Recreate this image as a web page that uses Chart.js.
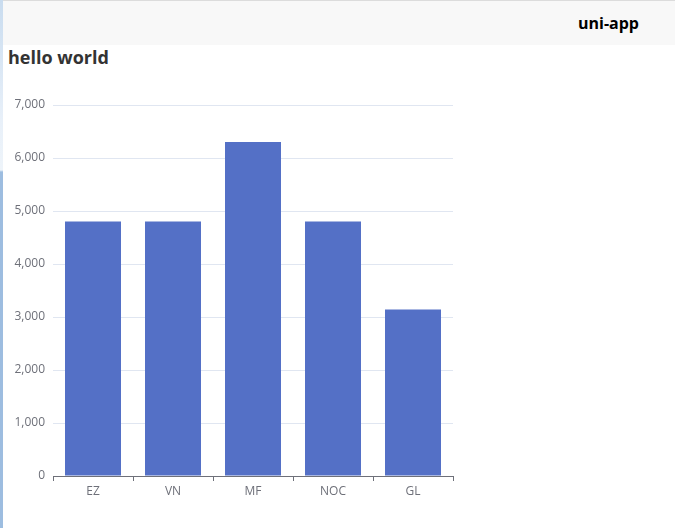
<!DOCTYPE html>
<html>
<head>
<meta charset="utf-8">
<script src="https://cdn.jsdelivr.net/npm/chart.js@4"></script>
<style>
  html, body { margin: 0; padding: 0; background: #fff; width: 675px; height: 528px; overflow: hidden; font-family: "Open Sans", "Noto Sans", sans-serif; }
  #strip { position: absolute; left: 0; top: 0; width: 3px; height: 528px;
    background: linear-gradient(to bottom, #c9dcef 0px, #e8f0f9 120px, #eef4fa 170px, #9dbde0 172px, #9dbde0 528px); }
  #nav { position: absolute; left: 3px; top: 0; width: 672px; height: 44px; background: #f8f8f8; border-top: 1px solid #dcdcdc; }
  #navtitle { position: absolute; left: 578px; top: 12px; font-size: 16px; font-weight: bold; color: #000; line-height: 22px; }
  #title { position: absolute; left: 8px; top: 45px; font-size: 18px; font-weight: bold; color: #333; line-height: 24px; }
  #wrap { position: absolute; left: 0; top: 81px; width: 460px; height: 430px; }
</style>
</head>
<body>
<div id="strip"></div>
<div id="nav"></div>
<div id="navtitle">uni-app</div>
<div id="title">hello world</div>
<div id="wrap"><canvas id="c" width="460" height="430"></canvas></div>
<script>
const categories = ["EZ", "VN", "MF", "NOC", "GL"];
const values = [4800, 4800, 6300, 4800, 3140];
const yTicks = [0, 1000, 2000, 3000, 4000, 5000, 6000, 7000];

new Chart(document.getElementById("c"), {
  type: "bar",
  data: {
    labels: categories,
    datasets: [{
      data: values,
      backgroundColor: "#5470c6",
      borderWidth: 0,
      barPercentage: 0.7,
      categoryPercentage: 1.0
    }]
  },
  options: {
    responsive: false,
    animation: false,
    events: [],
    layout: { padding: { top: 24, right: 7, bottom: 0, left: 0 } },
    plugins: { legend: { display: false }, tooltip: { enabled: false } },
    scales: {
      x: {
        offset: true,
        grid: { display: true, drawOnChartArea: false, drawTicks: true, tickLength: 5, color: "#6e7079", offset: true },
        border: { display: true, color: "#6e7079", width: 1 },
        ticks: { color: "#6e7079", font: { family: "Open Sans", size: 12 }, padding: 3, maxRotation: 0 },
        afterFit: (s) => { s.height = 35; }
      },
      y: {
        min: 0, max: 7000,
        afterBuildTicks: (s) => { s.ticks = yTicks.map(v => ({ value: v })); },
        grid: { color: "#e0e6f1", drawTicks: false },
        border: { display: false },
        ticks: {
          color: "#6e7079", font: { family: "Open Sans", size: 12 }, padding: 8,
          callback: (v) => v.toLocaleString("en-US")
        },
        afterFit: (s) => { s.width = 53; }
      }
    }
  }
});
</script>
</body>
</html>
